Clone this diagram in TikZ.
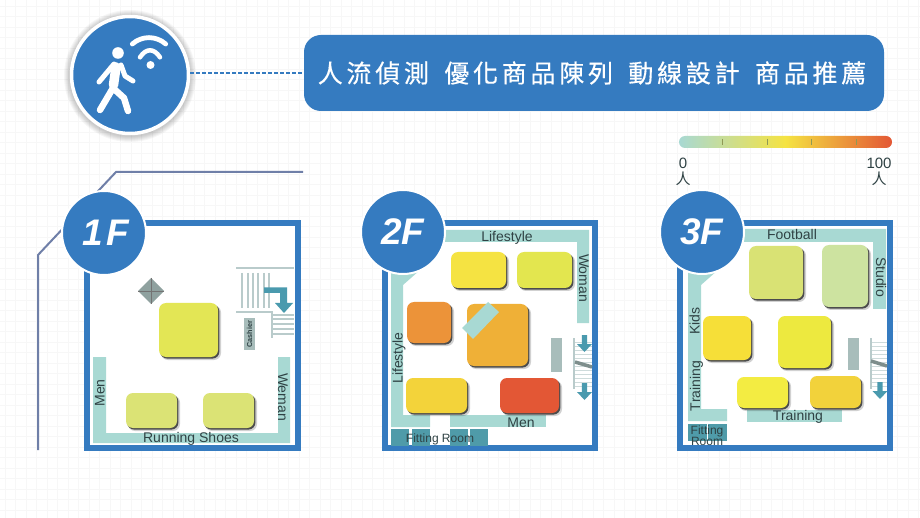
\documentclass[tikz,border=0pt]{standalone}
\usepackage{fontspec}
\setmainfont{Liberation Sans}
\newfontfamily\cjkfont{Noto Sans CJK TC}
\newfontfamily\cjkwide[LetterSpace=15,FakeBold=0.4]{Noto Sans CJK TC}
\definecolor{mainblue}{HTML}{357BC0}
\definecolor{shelf}{HTML}{A8D9D3}
\definecolor{deepteal}{HTML}{4F9BA9}
\definecolor{arrowteal}{HTML}{4A9AAE}
\definecolor{slate}{HTML}{6F7FA8}
\definecolor{pillar}{HTML}{A8BDBB}
\definecolor{stairline}{HTML}{B9CBCB}
\definecolor{inkdark}{HTML}{2F4244}
\definecolor{gridline}{HTML}{F7F7F7}
\definecolor{scalemid}{HTML}{F5E342}
\definecolor{scalehot}{HTML}{E35735}
\definecolor{scaletick}{HTML}{8F9A55}
\tikzset{
  x=1pt,y=-1pt,
  band/.style={fill=shelf,draw=none},
  room/.style={fill=deepteal,draw=none},
  frameline/.style={draw=mainblue,line width=6pt,fill=white},
  badge/.style={circle,fill=mainblue,draw=white,line width=2pt,minimum size=84pt,inner sep=0pt,text=white,font=\fontsize{37}{37}\selectfont\bfseries\itshape},
  zone/.style={font=\fontsize{14}{14}\selectfont,text=inkdark,inner sep=0pt,text height=10pt,text depth=0pt},
  smallzone/.style={font=\fontsize{12}{12}\selectfont,text=inkdark,inner sep=0pt,text height=9pt,text depth=0pt},
  stairstroke/.style={draw=stairline,line width=1.2pt},
  flowarrow/.style={fill=arrowteal,draw=none},
  iconline/.style={draw=white,line cap=round,line join=round},
  scalelabel/.style={font=\fontsize{15}{15}\selectfont,text=inkdark,inner sep=0pt},
  scalecjk/.style={font=\cjkfont\fontsize{15}{15}\selectfont,text=inkdark,inner sep=0pt},
}
\newcommand{\gondola}[5]{%
  \definecolor{gonfill}{HTML}{#5}%
  \fill[black,opacity=.18,rounded corners=7pt] (#1+2,#2+2.5) rectangle (#3+3,#4+3);
  \fill[black!70,rounded corners=7pt] (#1+1.2,#2+1.5) rectangle (#3+1.4,#4+1.6);
  \fill[gonfill,rounded corners=7pt] (#1,#2) rectangle (#3,#4);}
\newcommand{\downarrowmark}[3]{% x, top y, bottom y
  \fill[flowarrow] (#1-2.7,#2) -- (#1+2.7,#2) -- (#1+2.7,#3-8) -- (#1+7.5,#3-8) -- (#1,#3) -- (#1-7.5,#3-8) -- (#1-2.7,#3-8) -- cycle;}
\begin{document}
\begin{tikzpicture}
\useasboundingbox (0,0) rectangle (920,518);
\fill[white] (0,0) rectangle (920,518);
% faint grid
\foreach \gx in {0,...,87} \draw[gridline,line width=1pt] (5+10.5*\gx,0) -- (5+10.5*\gx,518);
\foreach \gy in {0,...,49} \draw[gridline,line width=1pt] (0,6.2+10.5*\gy) -- (920,6.2+10.5*\gy);
% slate outline
\coordinate (s1) at (38,450); \coordinate (s2) at (38,255); \coordinate (s3) at (116,172); \coordinate (s4) at (303,172);
\draw[slate,line width=2pt] (s1) -- (s2) -- (s3) -- (s4);
% header
\foreach \rr in {66,65,64,63,62,61} \fill[black,opacity=.035] (130,76) circle (\rr);
\node[circle,fill=mainblue,draw=white,line width=3.5pt,minimum size=117pt,inner sep=0pt] (sensor) at (130,75) {};
\node[fill=mainblue,rounded corners=17pt,minimum width=580pt,minimum height=76pt,inner sep=0pt,text=white,font=\cjkwide\fontsize{25}{25}\selectfont] (banner) at (594,73) {\kern-4pt 人流偵測\hspace{6pt} 優化商品陳列\hspace{6pt} 動線設計\hspace{6pt} 商品推薦};
\draw[mainblue,line width=2pt,dash pattern=on 4pt off 2pt] (sensor.east |- banner.west) -- (banner.west);
% person icon
\fill[white] (118,53) circle (5.8);
\draw[iconline,line width=9.5pt] (116,67) -- (113.5,85);
\draw[iconline,line width=6.5pt] (113,88) -- (100,110);
\draw[iconline,line width=6.5pt] (113,88) -- (124,98) -- (128,111);
\draw[iconline,line width=5pt] (114,64) -- (99,82);
\draw[iconline,line width=5pt] (121,65) -- (125,76) -- (133,81);
% wifi icon
\fill[white] (150.5,65) circle (4);
\draw[iconline,line width=4.8pt] (132.3,44) .. controls (142,35.5) and (156,35.5) .. (165.7,44);
\draw[iconline,line width=4.5pt] (140,57.3) .. controls (146,48) and (154,48) .. (160,57.3);
% colour scale
\begin{scope}
\clip[rounded corners=6pt] (679,136) rectangle (892,148);
\shade[left color=shelf,right color=scalemid] (679,136) rectangle (786,148);
\shade[left color=scalemid,right color=scalehot] (785.5,136) rectangle (892,148);
\end{scope}
\foreach \tx in {722,767,811,856} \draw[scaletick,line width=1pt] (\tx,139) -- (\tx,145);
\node[scalelabel] (zero) at (683,163) {0};
\node[scalecjk] (zeroperson) at (683,179) {人};
\node[scalelabel] (hundred) at (879,163) {100};
\node[scalecjk] (hundredperson) at (879,179) {人};
% ---------- 1F
\draw[frameline] (87,223) rectangle (297.5,448);
\fill[band] (93,357) -- (106,357) -- (106,433) -- (278,433) -- (278,357) -- (290,357) -- (290,443) -- (93,443) -- cycle;
\gondola{159}{303}{218}{357}{E3E655}
\gondola{126}{393}{177}{428}{DBE375}
\gondola{203}{393}{254}{428}{DBE375}
\fill[black!15!pillar] (151,278) -- (164,291) -- (151,304) -- (138,291) -- cycle;
\draw[black!55,line width=.7pt] (138,291) -- (164,291) (151,278) -- (151,304);
\draw[stairstroke] (236,268) -- (294,268);
\foreach \sx in {242,248,253,258,264,269} \draw[stairstroke] (\sx,273) -- (\sx,308);
\draw[stairstroke] (236,312) -- (272,312) -- (272,338);
\foreach \sy in {315,319,324,329,334} \draw[stairstroke] (273,\sy) -- (294,\sy);
\fill[flowarrow] (264,287.5) -- (287,287.5) -- (287,303) -- (293,303) -- (284,313) -- (275,303) -- (280,303) -- (280,293) -- (264,293) -- cycle;
\node[fill=pillar,minimum width=11pt,minimum height=32pt,inner sep=0pt] (cashierbox) at (249.5,334) {};
\node[rotate=90,font=\fontsize{7.2}{7.2}\selectfont\bfseries,text=inkdark,inner sep=0pt] (cashier) at (249.5,334) {Cashier};
\node[zone,rotate=90] (men1) at (99.5,393) {Men};
\node[zone,rotate=-90] (weman) at (283,397) {Weman};
\node[zone] (running) at (191,437) {Running Shoes};
\node[badge] (b1) at (104,233) {\kern4pt 1\kern3pt F};
% ---------- 2F
\draw[frameline] (385,223) rectangle (595,448);
\fill[band] (440,230) -- (589,230) -- (589,323) -- (577,323) -- (577,242) -- (440,242) -- cycle;
\fill[band] (391,270) -- (420,270) -- (403,285) -- (403,415) -- (430,415) -- (430,427) -- (391,427) -- cycle;
\fill[band] (450,415) rectangle (546,427);
\fill[room] (391,429) rectangle (409,446);
\fill[room] (412,429) rectangle (430,446);
\fill[room] (450,429) rectangle (468,446);
\fill[room] (470,429) rectangle (488,446);
\gondola{451}{252}{506}{288}{F5E342}
\gondola{517}{252}{572}{288}{E3E64F}
\gondola{407}{302}{451}{343}{EC9339}
\gondola{467}{304}{528}{366}{EFB037}
\gondola{406}{378}{467}{413}{F3D33A}
\gondola{500}{378}{559}{413}{E35735}
\fill[band] (488,302) -- (499,312) -- (473,339) -- (462,328) -- cycle;
\fill[pillar] (551,338) rectangle (562,372);
\foreach \sy in {342,346,350,354,358,362,366,370,374,378,382,386} \draw[stairline!70,line width=.7pt] (574,\sy) -- (592,\sy);
\draw[stairstroke] (574,338) -- (574,389);
\draw[black!25!pillar,line width=3.5pt] (575,362) -- (592,367);
\downarrowmark{584.5}{335}{352}
\downarrowmark{584.5}{383}{400}
\node[zone] (life2a) at (507,236.5) {Lifestyle};
\node[zone,rotate=-90] (woman2) at (584,278) {Woman};
\node[zone,rotate=90] (life2b) at (397.5,358) {Lifestyle};
\node[zone] (men2) at (521,422) {Men};
\node[smallzone] (fit2) at (440,438) {Fitting Room};
\node[badge] (b2) at (403,232) {2F};
% ---------- 3F
\draw[frameline] (680,223) rectangle (890,448);
\fill[band] (740,229) -- (886,229) -- (886,309) -- (873,309) -- (873,242) -- (740,242) -- cycle;
\fill[band] (688,270) -- (718,270) -- (701,285) -- (701,409) -- (727,409) -- (727,421) -- (688,421) -- cycle;
\fill[band] (747,410) rectangle (842,422);
\fill[room] (688,424) rectangle (706.5,441);
\fill[room] (707.5,424) rectangle (727,441);
\gondola{749}{246}{803}{299}{D9E274}
\gondola{822}{245}{868}{307}{CDE3A0}
\gondola{703}{316}{751}{360}{F6DF38}
\gondola{778}{316}{831}{368}{EDE93F}
\gondola{737}{377}{788}{408}{F3EC42}
\gondola{810}{376}{861}{408}{F2D23B}
\fill[pillar] (848,338) rectangle (859,370);
\foreach \sy in {342,346,350,354,358,362,366,370,374,378,382,386} \draw[stairline!70,line width=.7pt] (871,\sy) -- (887,\sy);
\draw[stairstroke] (871,338) -- (871,389);
\draw[black!25!pillar,line width=3.5pt] (871,361) -- (887,366);
\downarrowmark{880}{382}{399}
\node[zone] (foot) at (792,235) {Football};
\node[zone,rotate=-90] (studio) at (881,277) {Studio};
\node[zone,rotate=90] (kids) at (694.5,321) {Kids};
\node[zone,rotate=90] (train3a) at (695,386) {Training};
\node[zone] (train3b) at (798,415.5) {Training};
\node[smallzone] (fit3a) at (707,430) {Fitting};
\node[smallzone] (fit3b) at (707,440.5) {Room};
\node[badge] (b3) at (702,232) {3F};
\end{tikzpicture}
\end{document}
